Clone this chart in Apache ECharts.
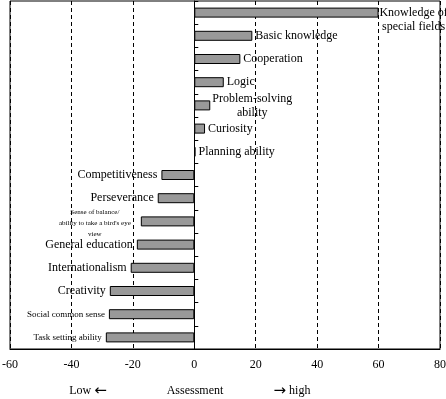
<!DOCTYPE html>
<html>
<head>
<meta charset="utf-8">
<script src="https://cdn.jsdelivr.net/npm/echarts@6/dist/echarts.min.js"></script>
<style>
  html, body { margin: 0; padding: 0; background: #fff; }
  #chart { width: 446px; height: 399px; }
</style>
</head>
<body>
<div id="chart"></div>
<script>
// categories, top to bottom
var categories = [
    'Knowledge of\nspecial fields',
    'Basic knowledge',
    'Cooperation',
    'Logic',
    'Problem-solving\nability',
    'Curiosity',
    'Planning ability',
    'Competitiveness',
    'Perseverance',
    "Sense of balance/\nability to take a bird's eye\nview",
    'General education',
    'Internationalism',
    'Creativity',
    'Social common sense',
    'Task setting ability'
];
var values = [60, 18.9, 15.0, 9.6, 5.2, 3.5, 0.4, -10.7, -11.9, -17.4, -18.7, -20.7, -27.5, -27.8, -28.8];
var axisMin = -60, axisMax = 80, axisStep = 20;

var serif = '"Liberation Serif", "Times New Roman", serif';

// label tweaks for a few of the bars
var labelTweaks = {
    0: {align: 'center', distance: 0, offset: [35, 7], lineHeight: 14},
    4: {align: 'center', distance: 0, offset: [42, 0], lineHeight: 14},
    9: {align: 'center', distance: 0, offset: [-46, 2], fontSize: 7, lineHeight: 11},
    13: {fontSize: 9},
    14: {fontSize: 9}
};

var barData = values.map(function (v, i) {
    var label = {
        show: true,
        position: v >= 0 ? 'right' : 'left', //正值标签在右，负值在左
        distance: v >= 0 ? 3 : 4,
        formatter: categories[i]
    };
    var t = labelTweaks[i] || {};
    for (var k in t) label[k] = t[k];
    return {value: v, label: label};
});

// 坐标轴下方说明文字，箭头用大一点的字号
var noteRich = {
    t: {fontFamily: serif, fontSize: 12, fill: '#000'},
    a: {fontFamily: '"DejaVu Sans", sans-serif', fontSize: 15, fill: '#000'}
};
function note(x, text) {
    return {type: 'text', x: x, y: 391, style: {text: text, rich: noteRich, fill: '#000', textAlign: 'center', textVerticalAlign: 'middle'}};
}

var myChart = echarts.init(document.getElementById('chart'));
myChart.setOption({
    animation: false,
    backgroundColor: '#fff',
    textStyle: {fontFamily: serif, color: '#000'},
    grid: {
        left: 10, right: 6, top: 1, bottom: 50,
        outerBoundsMode: 'none',
        containLabel: false,
        show: true,
        borderColor: '#000',
        borderWidth: 1
    },
    xAxis: {
        type: 'value',
        min: axisMin,
        max: axisMax,
        interval: axisStep,
        axisLine: {show: true, lineStyle: {color: '#000', width: 1}},
        axisTick: {show: false},
        axisLabel: {color: '#000', fontFamily: serif, fontSize: 12, margin: 10},
        splitLine: {show: true, lineStyle: {color: '#000', type: [4, 3], width: 1}}
    },
    yAxis: {
        type: 'category',
        inverse: true,
        data: categories,
        axisLine: {show: true, onZero: true, lineStyle: {color: '#000', width: 1}},
        axisTick: {show: true, inside: true, length: 4, lineStyle: {color: '#000'}},
        axisLabel: {show: false},
        splitLine: {show: false}
    },
    series: [{
        type: 'bar',
        data: barData,
        barWidth: 10,
        itemStyle: {color: '#999999', borderColor: '#000', borderWidth: 1},
        label: {color: '#000', fontFamily: serif, fontSize: 12}
    }],
    graphic: [
        note(88, '{t|Low }{a|←}'),
        note(195, '{t|Assessment}'),
        note(292, '{a|→}{t| high}')
    ]
});
</script>
</body>
</html>
